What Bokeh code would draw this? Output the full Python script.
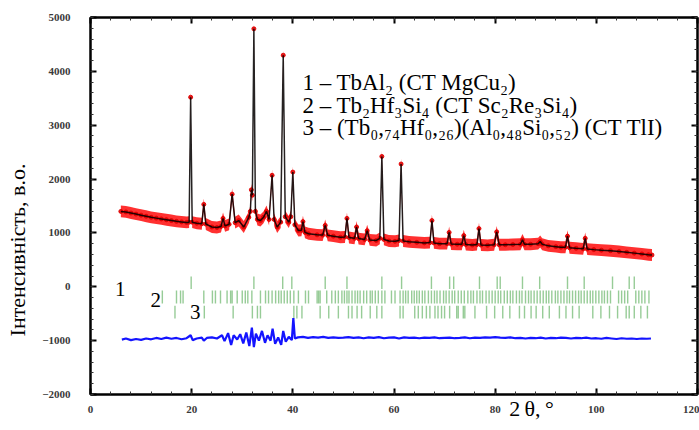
import math
from bokeh.plotting import figure
from bokeh.models import Range1d, LinearAxis, Label, SingleIntervalTicker, CustomJSTickFormatter
from bokeh.embed import file_html
from bokeh.resources import INLINE

# ---------------- data ----------------
obs_2theta = [6.0, 7.0, 8.0, 9.0, 10.0, 11.0, 12.0, 13.0, 14.0, 15.0, 16.0, 17.0, 18.0, 19.0,
              19.5, 19.8, 20.1, 21.0, 22.0, 22.4, 22.8, 24.0, 25.0, 25.8, 26.2, 26.6, 27.4,
              28.0, 28.6, 29.3, 30.3, 31.3, 31.6, 31.8, 32.0, 32.3, 32.6, 33.0, 33.6, 34.2,
              34.8, 35.3, 35.9, 36.3, 36.9, 37.6, 38.1, 38.5, 39.2, 39.6, 40.0, 40.4, 41.1,
              41.7, 42.0, 42.4, 43.1, 44.8, 45.9, 46.4, 46.9, 48.0, 49.4, 50.3, 50.7, 51.1,
              52.2, 52.6, 53.0, 54.2, 54.7, 55.2, 56.5, 57.2, 57.6, 58.0, 59.0, 60.2, 61.0,
              61.4, 61.8, 63.0, 64.5, 66.0, 67.1, 67.5, 67.9, 69.0, 70.5, 70.9, 71.3, 72.5,
              73.4, 73.8, 74.2, 75.5, 76.4, 76.8, 77.2, 78.5, 79.8, 80.3, 80.8, 82.0, 83.5,
              85.0, 85.4, 85.8, 87.0, 88.5, 88.9, 89.3, 90.5, 92.0, 93.0, 93.9, 94.3, 94.7,
              96.0, 97.4, 97.8, 98.2, 99.5, 101.0, 102.8, 104.5, 106.0, 107.5, 109.0, 110.3,
              111.0]
obs_int = [1400, 1390, 1370, 1350, 1330, 1310, 1290, 1275, 1260, 1245, 1230, 1215, 1205, 1195,
           1200, 3520, 1200, 1180, 1170, 1530, 1165, 1110, 1100, 1120, 1270, 1130, 1160,
           1720, 1190, 1230, 1110, 1290, 1400, 1800, 1700, 4790, 1400, 1250, 1230, 1290,
           1400, 1250, 2070, 1250, 1110, 1200, 4300, 1300, 1200, 1300, 2130, 1150, 1045,
           1050, 1210, 1010, 984, 965, 960, 1140, 955, 940, 920, 925, 1270, 915,
           900, 1110, 895, 880, 1040, 870, 860, 900, 2420, 880, 850, 845, 860,
           2280, 850, 835, 825, 815, 820, 1230, 815, 800, 800, 1010, 795, 790,
           790, 950, 785, 775, 785, 1080, 775, 770, 780, 1020, 780, 780, 785,
           790, 870, 790, 790, 800, 840, 790, 760, 745, 735, 735, 940, 725,
           715, 705, 900, 700, 690, 680, 670, 655, 640, 625, 610, 595,
           590]

diff_2theta = [6.2, 7, 8, 9, 10, 11, 12, 13, 14, 15, 16, 17, 18, 19, 19.8, 20.2, 21, 22, 22.4,
               23, 24, 25, 26, 26.5, 27.2, 27.8, 28.3, 29, 29.6, 30.2, 30.8, 31.4, 31.9, 32.3,
               32.7, 33.3, 33.9, 34.5, 35.0, 35.6, 36.0, 36.5, 37.1, 37.7, 38.1, 38.6, 39.2,
               39.8, 40.1, 40.4, 41, 42, 43, 44, 45, 46, 47, 48, 49, 50, 51, 52, 53, 54, 55,
               56, 57, 58, 59, 60, 61, 62, 63, 64, 65, 66, 67, 68, 69, 70, 71, 72, 73, 74, 75,
               76, 77, 78, 79, 80, 81, 82, 83, 84, 85, 86, 87, 88, 89, 90, 91, 92, 93, 94, 95,
               96, 97, 98, 99, 100, 101, 102, 103, 104, 105, 106, 107, 108, 109, 110, 110.8]
diff_int = [-980, -960, -990, -970, -985, -960, -975, -950, -970, -945, -965, -950, -975, -955,
            -900, -990, -960, -945, -1000, -950, -940, -960, -900, -1010, -860, -1080, -900,
            -980, -880, -1050, -850, -1100, -760, -1120, -870, -1000, -820, -1040, -900, -1000,
            -780, -1060, -940, -1080, -820, -1020, -930, -990, -580, -960, -940, -930, -950,
            -935, -945, -930, -950, -940, -950, -945, -935, -950, -940, -955, -940, -950, -935,
            -955, -945, -940, -960, -940, -950, -945, -955, -945, -950, -940, -955, -950, -945,
            -955, -950, -940, -955, -945, -950, -940, -945, -935, -945, -950, -940, -955, -950,
            -960, -950, -955, -945, -960, -950, -955, -945, -950, -960, -950, -955, -945, -960,
            -955, -965, -950, -960, -970, -955, -965, -960, -970, -960, -965, -960]

phase1_ticks = [19.9, 32.3, 38.0, 39.8, 46.4, 50.7, 57.6, 61.5, 67.4, 71.0, 71.8, 76.9, 80.4,
                81.0, 85.4, 88.8, 94.3, 97.6, 103.2, 106.5, 107.5]
phase2_ticks = [14.2, 17.0, 17.8, 18.3, 22.4, 24.1, 24.7, 25.7, 27.0, 27.7, 28.0, 29.0, 30.0,
                30.6, 31.1, 31.9, 33.6, 34.6, 35.2, 35.9, 36.6, 37.2, 37.7, 38.3, 38.9, 39.5,
                40.2, 41.1, 42.5, 43.1, 44.8, 45.1, 45.4, 46.7, 47.7, 48.4, 49.0, 49.7, 50.2,
                50.7, 51.1, 51.7, 52.3, 52.8, 53.3, 54.0, 54.6, 55.3, 55.7, 56.3, 56.9, 57.6,
                58.2, 59.5, 60.2, 61.2, 61.8, 62.3, 62.8, 63.5, 64.0, 64.5, 65.0, 65.6, 66.1,
                66.8, 67.4, 68.0, 68.5, 69.1, 69.8, 70.3, 70.9, 71.5, 72.0, 72.7, 73.3, 73.9,
                74.6, 75.2, 75.7, 76.4, 77.0, 77.5, 78.2, 78.8, 79.4, 80.0, 80.6, 81.1, 81.8,
                82.4, 83.0, 83.5, 84.2, 84.8, 85.3, 86.0, 86.6, 87.1, 87.7, 88.3, 88.9, 89.5,
                90.1, 90.6, 91.2, 91.9, 92.4, 93.0, 93.6, 94.2, 94.7, 95.3, 95.9, 96.5, 97.0,
                97.6, 98.2, 98.8, 99.3, 99.9, 100.5, 101.1, 101.6, 102.2, 102.8, 104.4, 105.0,
                105.6, 106.2, 107.8, 108.4, 109.0, 109.6, 110.4]
phase3_ticks = [16.7, 22.5, 28.2, 32.0, 33.0, 33.6, 40.2, 40.8, 41.8, 45.4, 47.1, 49.0, 51.0,
                51.7, 52.7, 53.6, 55.3, 56.6, 57.6, 61.2, 61.8, 64.1, 64.8, 65.6, 66.4, 67.1,
                68.1, 68.7, 69.4, 70.0, 71.0, 72.4, 72.7, 73.7, 74.0, 76.0, 78.3, 79.9, 81.5,
                82.9, 84.8, 85.8, 87.1, 88.1, 89.4, 90.7, 92.7, 94.0, 95.3, 96.6, 99.3, 100.9,
                102.6, 104.2, 105.9, 106.5, 107.5, 108.8, 110.1]

x_ticks_interval = 20
y_ticks_interval = 1000

phase_texts = ["1 \u2013 TbAl\u2082 (CT MgCu\u2082)",
               "2 \u2013 Tb\u2082Hf\u2083Si\u2084 (CT Sc\u2082Re\u2083Si\u2084)",
               "3 \u2013 (Tb\u2080,\u2087\u2084Hf\u2080,\u2082\u2086)(Al\u2080,\u2084\u2088Si\u2080,\u2085\u2082) (CT TlI)"]
row_numbers = ["1", "2", "3"]
y_title = "Інтенсивність, в.о."
x_title = "2\u2009\u03b8,\u2009\u00b0"

# ---------------- figure ----------------
SERIF = "Liberation Serif"
NBSP = "\u00a0"

p = figure(width=699, height=430, x_range=Range1d(0, 120), y_range=Range1d(-2000, 5000),
           output_backend="svg", toolbar_location=None,
           min_border_left=90, min_border_right=2, min_border_top=17, min_border_bottom=36)
p.xgrid.visible = False
p.ygrid.visible = False
p.outline_line_color = "black"
p.outline_line_width = 2
p.background_fill_color = "white"
p.border_fill_color = "white"

def style_axis(ax, ticker, show_labels, standoff):
    ax.ticker = ticker
    ax.axis_line_width = 2
    ax.axis_line_color = "black"
    ax.major_tick_in = 6
    ax.major_tick_out = 0
    ax.minor_tick_in = 3
    ax.minor_tick_out = 0
    ax.major_tick_line_width = 2
    ax.minor_tick_line_width = 1
    ax.major_tick_line_color = "black"
    ax.minor_tick_line_color = "#333333"
    if show_labels:
        ax.major_label_text_font = SERIF
        ax.major_label_text_font_style = "bold"
        ax.major_label_text_font_size = "11px"
        ax.major_label_text_color = "#3a3a3a"
        ax.major_label_standoff = standoff
    else:
        # tick marks only: no label text at all
        ax.formatter = CustomJSTickFormatter(code="return ''")
        ax.major_label_text_alpha = 0
        ax.major_label_standoff = 0

xt = lambda: SingleIntervalTicker(interval=x_ticks_interval, num_minor_ticks=5)
yt = lambda: SingleIntervalTicker(interval=y_ticks_interval, num_minor_ticks=5)

xa = p.xaxis[0]
ya = p.yaxis[0]
style_axis(xa, xt(), True, 11)
style_axis(ya, yt(), True, 20)

# x title sits on the tick-label row, right of centre (padded with no-break spaces)
xa.axis_label = NBSP * 50 + x_title
xa.axis_label_text_font = SERIF
xa.axis_label_text_font_style = "normal"
xa.axis_label_text_font_size = "22px"
xa.axis_label_text_color = "black"
xa.axis_label_standoff = -20

# y title is shifted below the frame centre (padded at its end)
ya.axis_label = y_title + NBSP * 16
ya.axis_label_text_font = SERIF
ya.axis_label_text_font_style = "normal"
ya.axis_label_text_font_size = "22px"
ya.axis_label_text_color = "black"
ya.axis_label_standoff = 9

top_ax = LinearAxis()
style_axis(top_ax, xt(), False, 0)
p.add_layout(top_ax, "above")
right_ax = LinearAxis()
style_axis(right_ax, yt(), False, 0)
p.add_layout(right_ax, "right")

# ---------------- marks ----------------
band = 110  # half thickness of the red observed band
p.varea(x=obs_2theta, y1=[v - band for v in obs_int], y2=[v + band for v in obs_int],
        fill_color="#ff1a1a", fill_alpha=0.9)
p.scatter(x=obs_2theta, y=obs_int, size=4, color="#e00000", alpha=0.9)
p.line(x=obs_2theta, y=obs_int, line_color="black", line_width=1.5, line_alpha=0.85)

row_levels = [(-40, 190), (-310, -70), (-590, -350)]
for ticks, (lo, hi) in zip([phase1_ticks, phase2_ticks, phase3_ticks], row_levels):
    p.segment(x0=ticks, y0=[lo] * len(ticks), x1=ticks, y1=[hi] * len(ticks),
              line_color="#2f9a2f", line_alpha=0.5, line_width=1.4)

p.line(x=diff_2theta, y=diff_int, line_color="#1414ff", line_width=2.2)

# ---------------- texts ----------------
for txt, yy in zip(phase_texts, [3793, 3366, 2958]):
    p.add_layout(Label(x=41.9, y=yy, text=txt, text_font=SERIF, text_font_size="23px",
                       text_baseline="middle", text_align="left", text_color="black"))

for txt, xx, yy in zip(row_numbers, [5.9, 12.9, 20.7], [-50, -254, -471]):
    p.add_layout(Label(x=xx, y=yy, text=txt, text_font=SERIF, text_font_size="21px",
                       text_baseline="middle", text_align="center", text_color="black"))

open("out.html", "w").write(file_html(p, INLINE))
